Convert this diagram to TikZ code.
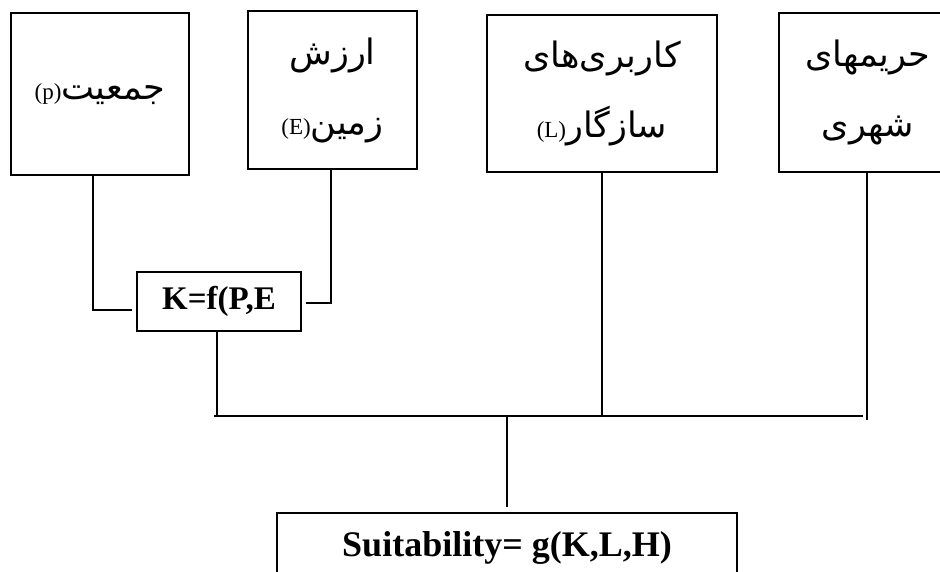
\documentclass[tikz,border=0pt]{standalone}
\usepackage{fontspec}
\setmainfont{Liberation Serif}
\newfontfamily\arabicfont[Script=Arabic]{DejaVu Sans}
\TeXXeTstate=1
\newcommand{\fatext}[1]{{\arabicfont\beginR #1\endR}}
\newcommand{\latsmall}[1]{{\fontsize{23}{26}\selectfont #1}}
\usetikzlibrary{positioning}

\begin{document}
\begin{tikzpicture}[
  x=1pt, y=-1pt,
  box/.style={draw, line width=1.4pt, align=center, inner sep=0pt, font=\fontsize{35}{70}\selectfont},
  res/.style={draw, line width=1.4pt, align=center, inner sep=0pt, font=\bfseries\fontsize{33}{38}\selectfont},
  conn/.style={line width=1.3pt}
]
  \useasboundingbox (0,0) rectangle (940,571);
  \clip (0,0) rectangle (940,571);
  \fill[white] (0,0) rectangle (940,571);

  \node[box, minimum width=178pt, minimum height=162pt] (pop) at (100,94) {\latsmall{(p)}\fatext{جمعیت}};
  \node[box, minimum width=169pt, minimum height=158pt] (land) at (332.5,90) {\fatext{ارزش}\\\latsmall{(E)}\fatext{زمین}};
  \node[box, minimum width=230pt, minimum height=157pt] (compat) at (602,93.5) {\fatext{کاربری‌های}\\\latsmall{(L)}\fatext{سازگار}};
  \node[box, minimum width=178pt, minimum height=159pt] (buffer) at (868,92.5) {\fatext{حریمهای}\\\fatext{شهری}};
  \node[res, minimum width=164pt, minimum height=59pt] (kbox) at (219,301.5) {K=f(P,E};
  \node[res, minimum width=460pt, minimum height=70pt, font=\bfseries\fontsize{36}{40}\selectfont] (suit) at (507,548) {Suitability= g(K,L,H)};
  \coordinate (bus) at (507,416);

  \draw[conn] ([xshift=-7pt]pop.south) |- ([xshift=-4pt,yshift=-8.5pt]kbox.west);
  \draw[conn] ([xshift=-1.5pt]land.south) |- ([xshift=4pt,yshift=-1.5pt]kbox.east);
  \draw[conn] ([xshift=-2pt]kbox.south) -- ([xshift=-2pt]kbox.south |- bus);
  \draw[conn] ([xshift=-5pt]kbox.south |- bus) -- ([xshift=-5pt]buffer.south |- bus);
  \draw[conn] (compat.south) -- (compat.south |- bus);
  \draw[conn] ([xshift=-1pt]buffer.south) -- ([xshift=-1pt,yshift=-4pt]buffer.south |- bus);
  \draw[conn] (bus) -- ([yshift=5pt]suit.north);
\end{tikzpicture}
\end{document}
